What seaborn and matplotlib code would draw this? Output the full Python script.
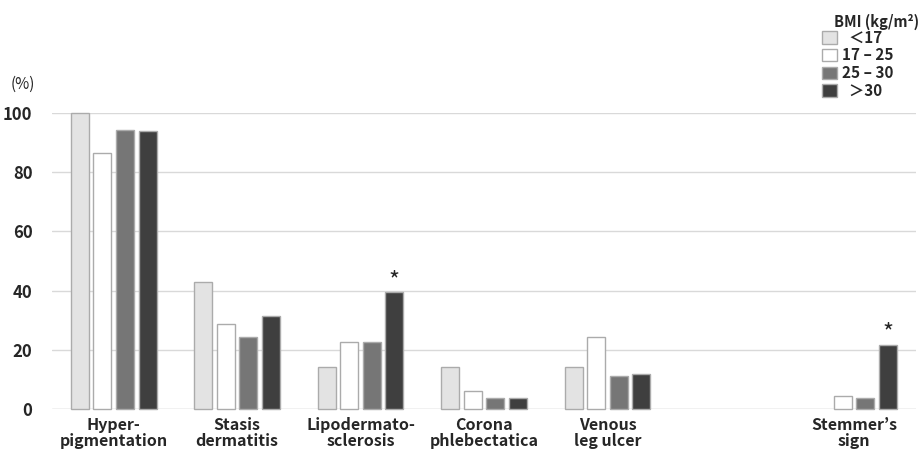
import numpy as np
import pandas as pd
import matplotlib.pyplot as plt
from matplotlib.patches import Patch
import seaborn as sns

# 7 slots on the x axis, the 6th one is left empty in the original
order = ['Hyper-\npigmentation', 'Stasis\ndermatitis', 'Lipodermato-\nsclerosis',
         'Corona\nphlebectatica', 'Venous\nleg ulcer', ' ', 'Stemmer’s\nsign']
signs = ['Hyper-\npigmentation', 'Stasis\ndermatitis', 'Lipodermato-\nsclerosis',
         'Corona\nphlebectatica', 'Venous\nleg ulcer', 'Stemmer’s\nsign']
bmi_groups = ['＜17', '17 – 25', '25 – 30', '＞30']

under17 = [100, 42.9, 14.3, 14.3, 14.3, np.nan]
bmi17_25 = [86.4, 28.8, 22.7, 6.1, 24.2, 4.5]
bmi25_30 = [94.3, 24.5, 22.6, 3.8, 11.3, 3.8]
over30 = [93.9, 31.3, 39.4, 3.9, 11.7, 21.6]
starred = ['Lipodermato-\nsclerosis', 'Stemmer’s\nsign']

colors = ['#e3e3e3', '#ffffff', '#767676', '#3f3f3f']

df = pd.DataFrame({
    'sign': signs * 4,
    'bmi': np.repeat(bmi_groups, len(signs)),
    'pct': under17 + bmi17_25 + bmi25_30 + over30,
}).dropna()

sns.set_style('white')
plt.rcParams['font.family'] = ['Noto Sans CJK JP', 'DejaVu Sans']

fig = plt.figure(figsize=(9.21, 4.54), dpi=100)
ax = fig.add_axes([0.0565, 0.099, 0.938, 0.652])

sns.barplot(data=df, x='sign', y='pct', hue='bmi', order=order, hue_order=bmi_groups,
            palette=dict(zip(bmi_groups, colors)), width=0.73, gap=0.2,
            edgecolor='#ababab', linewidth=1, legend=False, ax=ax)

ax.set_xlim(-0.5, 6.5)
ax.set_ylim(0, 100)
ax.set_yticks(range(0, 101, 20))
ax.yaxis.grid(True, color='#d9d9d9', linewidth=1)
ax.set_axisbelow(True)
for s in ax.spines.values():
    s.set_visible(False)
ax.axhline(0, color='#d9d9d9', linewidth=1, zorder=0)
ax.set_xlabel('')
ax.set_ylabel('')
ax.tick_params(length=0)
ax.tick_params(axis='y', pad=14, labelsize=12)
ax.tick_params(axis='x', pad=6, labelsize=11.5)
for lab in ax.get_xticklabels() + ax.get_yticklabels():
    lab.set_fontweight('bold')
for lab in ax.get_xticklabels():
    lab.set_linespacing(0.98)
for p in ax.patches:
    p.set_clip_on(False)

# asterisks above the >30 bars
for bar in ax.containers[3]:
    xc = bar.get_x() + bar.get_width() / 2
    idx = int(round(xc))
    if order[idx] in starred:
        ax.text(xc, bar.get_height() + 4.0, '*', ha='center', va='center', fontsize=17)

fig.text(0.011, 0.815, '(%)', fontsize=11, va='center')

handles = [Patch(facecolor=c, edgecolor='#ababab', linewidth=1) for c in colors]
fig.legend(handles, ['  ＜17', '17 – 25', '25 – 30', '  ＞30'], loc='upper left',
           bbox_to_anchor=(0.892, 0.935), frameon=False,
           handlelength=1.0, handleheight=0.9, handletextpad=0.35,
           labelspacing=0.12, borderpad=0, borderaxespad=0,
           prop={'weight': 'bold', 'size': 11})
fig.text(0.998, 0.952, 'BMI (kg/m²)', fontsize=10.5, fontweight='bold',
         va='center', ha='right')

fig.savefig('out.png', dpi=100)
